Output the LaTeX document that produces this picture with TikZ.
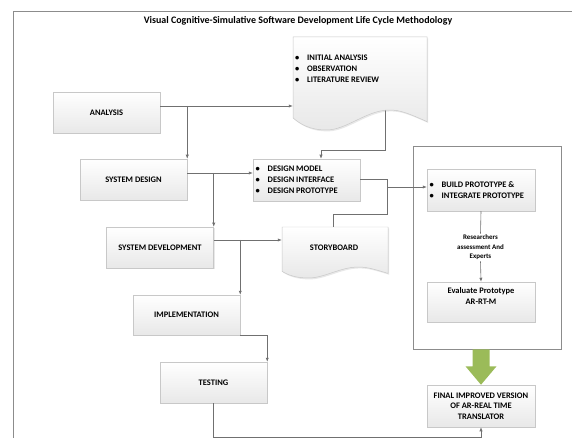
\documentclass[tikz,border=0pt]{standalone}
\usepackage{fontspec}
\setmainfont{Carlito}
\usetikzlibrary{arrows.meta,shadows,calc}
\definecolor{lineC}{HTML}{707070}
\definecolor{boxB}{HTML}{C8C8C8}
\definecolor{frameC}{HTML}{8C8C8C}
\definecolor{greenA}{HTML}{9BBB59}
\newcommand\bitem[1]{\makebox[12bp][l]{\textbullet}#1}
\newcommand\docoutline[4]{(#1,#2) -- ({#1+#3},#2) -- ({#1+#3},{#2+0.91*#4}) .. controls ({#1+0.86*#3},{#2+0.82*#4}) and ({#1+0.8*#3},{#2+0.785*#4}) .. ({#1+0.72*#3},{#2+0.785*#4}) .. controls ({#1+0.55*#3},{#2+0.785*#4}) and ({#1+0.4*#3},{#2+#4}) .. ({#1+0.25*#3},{#2+#4}) .. controls ({#1+0.12*#3},{#2+#4}) and ({#1+0.05*#3},{#2+0.93*#4}) .. (#1,{#2+0.87*#4}) -- cycle}
\tikzset{
  shad/.style={drop shadow={opacity=0.18, shadow xshift=1.2bp, shadow yshift=-1.4bp}},
  box/.style={draw=boxB, line width=0.5pt, top color=white, bottom color=black!9, shad,
    minimum width=107bp, minimum height=41bp, inner sep=1bp, align=center,
    font=\bfseries\fontsize{8.5}{10.5}\selectfont},
  docbox/.style={draw=boxB, line width=0.5pt, top color=white, bottom color=black!9, shad},
  listtext/.style={inner sep=0pt, align=left, font=\bfseries\fontsize{8.5}{11}\selectfont},
  lbl/.style={inner sep=1bp, align=center, font=\bfseries\fontsize{8.5}{10.5}\selectfont},
  conn/.style={draw=lineC, line width=0.6pt},
  arr/.style={conn, -{Latex[length=4bp,width=3.2bp]}},
  framel/.style={draw=frameC, line width=0.7pt}
}
\begin{document}
\begin{tikzpicture}[x=1bp,y=-1bp]
\useasboundingbox (0,0) rectangle (572,438);
% outer frame (open to right and bottom)
\draw[framel] (572,11) -- (13,11) -- (13,438);
\node[font=\bfseries\fontsize{10}{12}\selectfont] (title) at (298,21)
  {Visual Cognitive-Simulative Software Development Life Cycle Methodology};

% helper coordinates
\coordinate (aY) at (0,106);
\coordinate (dY) at (0,173);
\coordinate (sY) at (0,240);
\coordinate (bY) at (0,437);
\coordinate (eY) at (0,179);
\coordinate (j) at (387,187);
\coordinate (sb) at (333,214);
\coordinate (d1) at (385,100);
\coordinate (d2) at (321,150);

% left staircase boxes
\node[box] (analysis) at (106.5,112.5) {ANALYSIS};
\node[box] (sysdesign) at (133.5,179.5) {SYSTEM DESIGN};
\node[box] (sysdev) at (160,247.5) {SYSTEM DEVELOPMENT};
\node[box, minimum height=40bp] (impl) at (186.5,315) {IMPLEMENTATION};
\node[box] (testing) at (213.5,382.5) {TESTING};

% design box
\node[box, minimum height=42bp] (design) at (306.5,180) {};
\node[listtext, anchor=west] (designtxt) at (255.5,180)
  {\bitem{DESIGN MODEL}\\\bitem{DESIGN INTERFACE}\\\bitem{DESIGN PROTOTYPE}};

% connector from initial-analysis document to design box (under the document)
\draw[arr] (d1) -- (d1 |- d2) -- (d2) -- (d2 |- design.north);

% initial analysis document
\path[docbox] \docoutline{293}{37}{134}{93};
\node[inner sep=0pt, minimum width=134bp, minimum height=80bp] (initial) at (360,77) {};
\node[listtext, anchor=north west] (initialtxt) at (295,54.5)
  {\bitem{INITIAL ANALYSIS}\\\bitem{OBSERVATION}\\\bitem{LITERATURE REVIEW}};

% storyboard document
\path[docbox] \docoutline{282}{227}{106}{51};
\node[lbl, inner sep=0pt, minimum width=106bp, minimum height=40bp] (story) at (335,247) {};
\node[lbl] (storytxt) at (334,248) {STORYBOARD};

% right frame
\node[draw=frameC, line width=0.7pt, fill=white, shad, minimum width=148bp, minimum height=203bp, inner sep=0pt] (frame) at (487,247.5) {};
\node[box, minimum width=108bp, minimum height=42bp] (build) at (481,190) {};
\node[listtext, anchor=west] (buildtxt) at (429.5,190)
  {\bitem{BUILD PROTOTYPE \&}\\\bitem{INTEGRATE PROTOTYPE}};
\node[box, minimum width=108bp, minimum height=40bp] (evaluate) at (481,302) {};
\node[lbl] (evaltxt) at (481,296) {Evaluate Prototype\\AR-RT-M};
\node[inner sep=1bp, align=center, fill=white, font=\bfseries\fontsize{7}{9.6}\selectfont] (lab) at (480.5,247.5)
  {Researchers\\assessment And\\Experts};
\node[box, minimum width=108bp, minimum height=42bp] (final) at (481,406)
  {FINAL IMPROVED VERSION\\OF AR-REAL TIME\\TRANSLATOR};

% green arrow
\coordinate (g0) at (final.north |- frame.south);
\fill[greenA] ($(g0)+(-8.5,0)$) -- ($(g0)+(8.5,0)$) -- ($(g0)+(8.5,17)$) -- ($(g0)+(15.5,17)$)
  -- (final.north) -- ($(g0)+(-15.5,17)$) -- ($(g0)+(-8.5,17)$) -- cycle;

% connectors
\draw[arr] (analysis.east |- aY) -- (initial.west |- aY);
\draw[arr] (sysdesign.north east |- aY) -- (sysdesign.north east);
\draw[arr] (sysdesign.east |- dY) -- (design.west |- dY);
\draw[arr] (sysdev.north east |- dY) -- (sysdev.north east);
\draw[arr] (sysdev.east |- sY) -- (story.west |- sY);
\draw[arr] (impl.north east |- sY) -- (impl.north east);
\draw[arr] (impl.south east) -- (testing.north east |- impl.south east) -- (testing.north east);
\draw[arr] (testing.south) -- (testing.south |- bY) -- (final.south |- bY) -- (final.south);
\draw[arr] (design.east |- eY) -- (j |- eY) -- (j) -- (build.west |- j);
\draw[conn] (j) -- (j |- sb) -- (sb) -- (sb |- story.north);
\draw[conn] (build.south) -- (lab.north);
\draw[arr] (lab.south) -- (evaluate.north);
\end{tikzpicture}
\end{document}
